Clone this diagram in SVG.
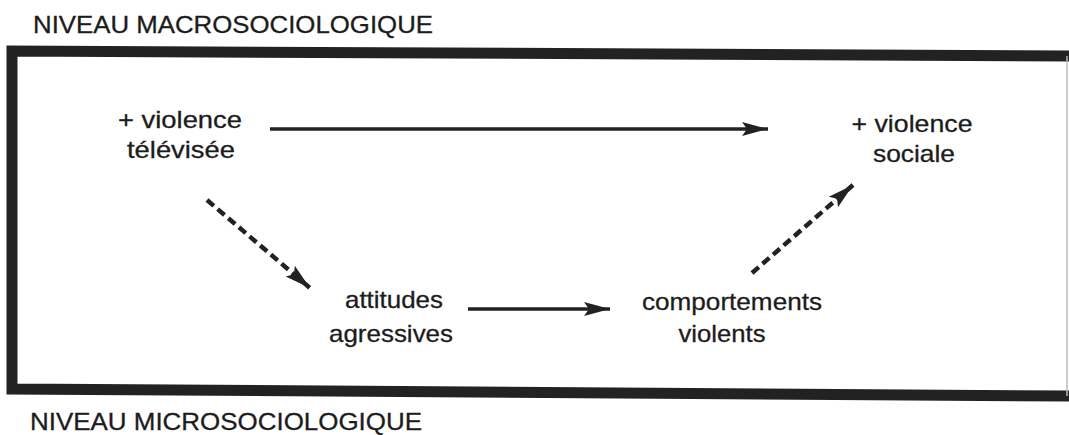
<svg xmlns="http://www.w3.org/2000/svg" width="1069" height="435" viewBox="0 0 1069 435">
<style>
.t{font-family:"Liberation Sans",Arial,sans-serif;fill:#1c1c1c;stroke:#1c1c1c;stroke-width:0.3;}
.lvl{font-size:24px;}
.nd{font-size:24px;text-anchor:middle;}
.frame{stroke:#222;stroke-width:11;fill:none;stroke-linecap:square;}
.c{stroke:#222;stroke-width:3.5;fill:none;}
.d{stroke-dasharray:9 5;stroke-width:4.5;}
</style>
<defs>
<marker id="ah" markerUnits="userSpaceOnUse" markerWidth="30" markerHeight="18" refX="26" refY="9" orient="auto">
<path d="M0,2 L26,9 L0,16 L5,9 Z" fill="#222"/>
</marker>
</defs>
<rect width="1069" height="435" fill="#fff"/>
<g id="levels">
<text class="t lvl" x="33" y="33" textLength="400" lengthAdjust="spacingAndGlyphs">NIVEAU MACROSOCIOLOGIQUE</text>
<text class="t lvl" x="30" y="430" textLength="392" lengthAdjust="spacingAndGlyphs">NIVEAU MICROSOCIOLOGIQUE</text>
</g>
<g id="frame">
<path class="frame" d="M1069,56 L12,51 L12,389 L1069,396"/>
<line x1="1067" y1="56" x2="1067" y2="396" stroke="#bbb" stroke-width="1.5"/>
</g>
<g id="node-tv">
<text class="t nd" x="180" y="128" textLength="124" lengthAdjust="spacingAndGlyphs">+ violence</text>
<text class="t nd" x="181" y="158" textLength="108" lengthAdjust="spacingAndGlyphs">télévisée</text>
</g>
<g id="node-sociale">
<text class="t nd" x="912" y="132" textLength="121" lengthAdjust="spacingAndGlyphs">+ violence</text>
<text class="t nd" x="914" y="162" textLength="82" lengthAdjust="spacingAndGlyphs">sociale</text>
</g>
<g id="node-attitudes">
<text class="t nd" x="394" y="308" textLength="98" lengthAdjust="spacingAndGlyphs">attitudes</text>
<text class="t nd" x="391" y="342" textLength="124" lengthAdjust="spacingAndGlyphs">agressives</text>
</g>
<g id="node-comportements">
<text class="t nd" x="732" y="310" textLength="180" lengthAdjust="spacingAndGlyphs">comportements</text>
<text class="t nd" x="722" y="342" textLength="87" lengthAdjust="spacingAndGlyphs">violents</text>
</g>
<g id="connectors">
<line class="c" x1="270" y1="129" x2="768" y2="129" marker-end="url(#ah)"/>
<line class="c d" x1="207" y1="200" x2="310" y2="288" marker-end="url(#ah)"/>
<line class="c" x1="468" y1="309" x2="610" y2="309" marker-end="url(#ah)"/>
<line class="c d" x1="752" y1="273" x2="853" y2="185" marker-end="url(#ah)"/>
</g>
</svg>
